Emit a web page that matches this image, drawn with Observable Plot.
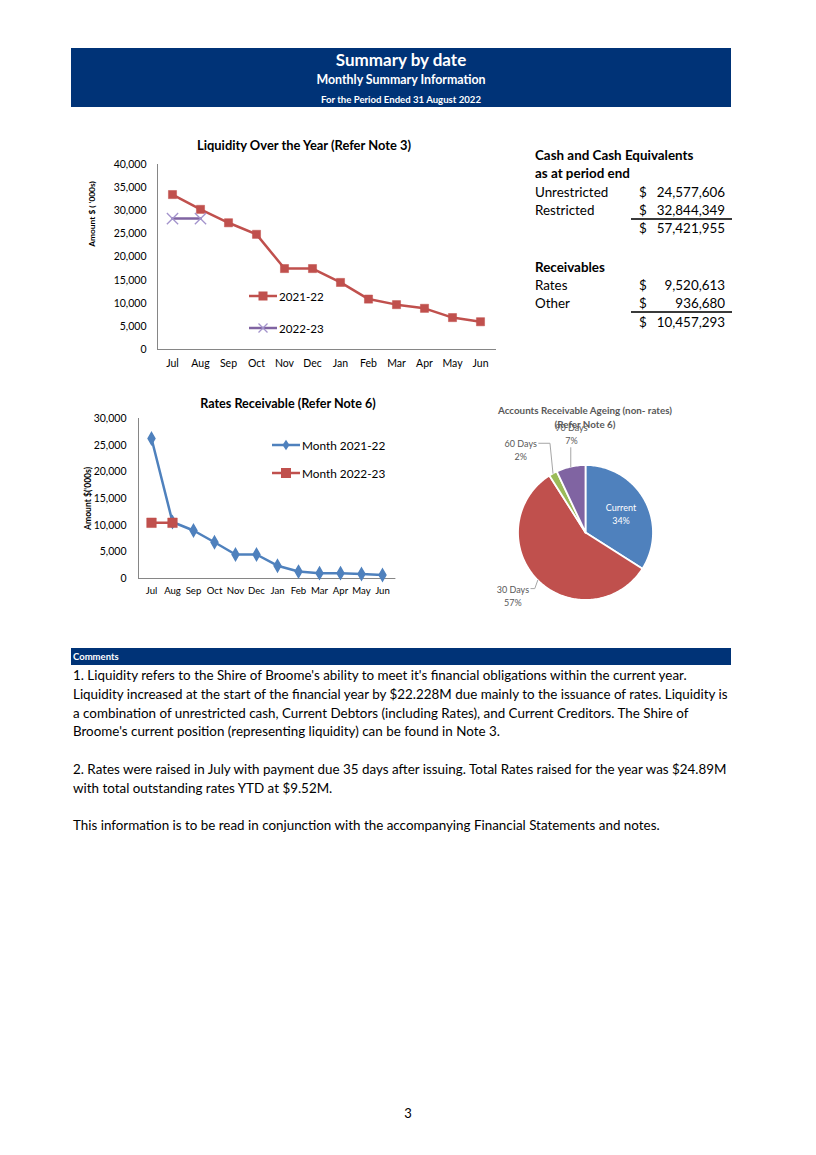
<!DOCTYPE html>
<html>
<head>
<meta charset="utf-8">
<script src="https://cdn.jsdelivr.net/npm/d3@7"></script>
<script src="https://cdn.jsdelivr.net/npm/@observablehq/plot@0.6"></script>
<style>
  body { margin: 0; background: #fff; font-family: Lato, "Open Sans", sans-serif; color: #000; }
  #page { position: relative; width: 816px; height: 1155px; overflow: hidden; background: #fff; }
  .abs { position: absolute; white-space: nowrap; }
  .band { position: absolute; background: #003377; }
  .ctr { text-align: center; }
  svg { overflow: visible; }
  .legend { position: absolute; display: flex; align-items: center; white-space: nowrap; }
  .legend svg { margin-right: 2px; }
</style>
</head>
<body>
<div id="page">
  <div class="band" style="left:71px;top:48px;width:660px;height:59px;"></div>
  <div class="abs ctr" id="h1" style="left:71px;width:660px;top:50px;line-height:20px;font-size:17px;font-weight:bold;color:#fff;"></div>
  <div class="abs ctr" id="h2" style="left:71px;width:660px;top:72px;line-height:16px;font-size:12.4px;font-weight:bold;color:#fff;"></div>
  <div class="abs ctr" id="h3" style="left:71px;width:660px;top:93px;line-height:14px;font-size:9.6px;font-weight:bold;color:#fff;"></div>

  <div class="abs ctr" id="t1" style="left:154px;width:300px;top:137px;line-height:16px;font-size:12.9px;font-weight:bold;"></div>
  <div id="c1" class="abs" style="left:80px;top:135px;"></div>
  <div id="leg1" class="abs" style="left:0;top:0;width:816px;"></div>

  <div class="abs ctr" id="t2" style="left:138px;width:300px;top:396px;line-height:16px;font-size:12.6px;font-weight:bold;"></div>
  <div id="c2" class="abs" style="left:80px;top:395px;"></div>
  <div id="leg2" class="abs" style="left:0;top:0;width:816px;"></div>

  <div class="abs ctr" id="t3" style="left:485px;width:200px;top:403px;line-height:14px;font-size:9.8px;font-weight:bold;color:#595959;"></div>
  <div id="c3" class="abs" style="left:480px;top:420px;"></div>

  <div id="cash" class="abs" style="left:0;top:0;width:816px;height:400px;"></div>

  <div class="band" style="left:71px;top:648px;width:660px;height:17px;"></div>
  <div class="abs" id="cm" style="left:73px;top:649px;line-height:15px;font-size:9.5px;font-weight:bold;color:#fff;"></div>
  <div class="abs" id="comments" style="left:73px;top:666px;line-height:18.8px;font-size:13.4px;"></div>

  <div class="abs ctr" id="pgno" style="left:358px;width:100px;top:1104px;line-height:18px;font-size:13px;"></div>
</div>

<script>
// ---------------- data ----------------
const headerLines = ["Summary by date", "Monthly Summary Information", "For the Period Ended 31 August 2022"];

const months = ["Jul", "Aug", "Sep", "Oct", "Nov", "Dec", "Jan", "Feb", "Mar", "Apr", "May", "Jun"];

const liquidityTitle = "Liquidity Over the Year (Refer Note 3)";
const liquidityAxisLabel = "Amount $ ( '000s)";
const liquidityTicks = [0, 5000, 10000, 15000, 20000, 25000, 30000, 35000, 40000];
const liquiditySeriesNames = ["2021-22", "2022-23"];
const liquidity2021_22 = [33500, 30300, 27400, 24900, 17500, 17500, 14500, 10900, 9700, 8900, 6900, 6000];
const liquidity2022_23 = [28300, 28300];

const ratesTitle = "Rates Receivable (Refer Note 6)";
const ratesAxisLabel = "Amount $('000s)";
const ratesTicks = [0, 5000, 10000, 15000, 20000, 25000, 30000];
const ratesSeriesNames = ["Month 2021-22", "Month 2022-23"];
const rates2021_22 = [26250, 10600, 9000, 6800, 4500, 4500, 2400, 1300, 1000, 1000, 850, 650];
const rates2022_23 = [10450, 10450];

const ageingTitle = ["Accounts Receivable Ageing (non- rates)", "(Refer Note 6)"];
const ageingCategories = ["Current", "30 Days", "60 Days", "90 Days"];
const ageingShares = [34, 57, 2, 7];

const cashHeading = ["Cash and Cash Equivalents", "as at period end"];
const cashLabels = ["Unrestricted", "Restricted"];
const cashValues = [24577606, 32844349];
const receivablesHeading = "Receivables";
const receivablesLabels = ["Rates", "Other"];
const receivablesValues = [9520613, 936680];

const commentsHeading = "Comments";
const commentLines = [
  "1. Liquidity refers to the Shire of Broome's ability to meet it's financial obligations within the current year.",
  "Liquidity increased at the start of the financial year by $22.228M due mainly to the issuance of rates. Liquidity is",
  "a combination of unrestricted cash, Current Debtors (including Rates), and Current Creditors. The Shire of",
  "Broome's current position (representing liquidity) can be found in Note 3.",
  "",
  "2. Rates were raised in July with payment due 35 days after issuing. Total Rates raised for the year was $24.89M",
  "with total outstanding rates YTD at $9.52M.",
  "",
  "This information is to be read in conjunction with the accompanying Financial Statements and notes."
];
const pageNumber = "3";

// ---------------- styles ----------------
const FONT = 'Lato, "Open Sans", sans-serif';
const RED = "#C0504D", PURPLE = "#8064A2", BLUE = "#4F81BD", GREEN = "#9BBB59";
const AXIS = "#868686";
const fmt = d3.format(",");

// ---------------- header / text ----------------
document.getElementById("h1").textContent = headerLines[0];
document.getElementById("h2").textContent = headerLines[1];
document.getElementById("h3").textContent = headerLines[2];
document.getElementById("t1").textContent = liquidityTitle;
document.getElementById("t2").textContent = ratesTitle;
document.getElementById("t3").innerHTML = ageingTitle.map(s => `<div>${s}</div>`).join("");
document.getElementById("cm").textContent = commentsHeading;
document.getElementById("comments").innerHTML = commentLines.map(l => `<div>${l || "&nbsp;"}</div>`).join("");
document.getElementById("pgno").textContent = pageNumber;

// ---------------- chart 1: liquidity ----------------
const liqA = months.map((m, i) => ({month: m, value: liquidity2021_22[i]}));
const liqB = liquidity2022_23.map((v, i) => ({month: months[i], value: v}));

const chart1 = Plot.plot({
  width: 420, height: 240,
  marginLeft: 77, marginRight: 5, marginTop: 29, marginBottom: 26,
  style: {fontFamily: FONT, fontSize: "10.5px", color: "#000", background: "none", overflow: "visible"},
  x: {type: "point", domain: months, padding: 0.5},
  y: {domain: [0, 40000]},
  marks: [
    Plot.frame({anchor: "left", stroke: AXIS}),
    Plot.frame({anchor: "bottom", stroke: AXIS}),
    Plot.axisX({tickSize: 0, tickPadding: 10, label: null, fontSize: 10.5}),
    Plot.axisY({ticks: liquidityTicks, tickSize: 0, tickPadding: 11, tickFormat: fmt, label: null, fontSize: 10.5}),
    Plot.text([liquidityAxisLabel], {frameAnchor: "left", textAnchor: "middle", rotate: -90, dx: -65, dy: -43, fontWeight: "bold", fontSize: 8.4}),
    Plot.line(liqA, {x: "month", y: "value", stroke: RED, strokeWidth: 2.5}),
    Plot.dot(liqA, {x: "month", y: "value", symbol: "square", fill: RED, stroke: RED, strokeWidth: 0.5, r: 4.6}),
    Plot.line(liqB, {x: "month", y: "value", stroke: PURPLE, strokeWidth: 2.5}),
    Plot.dot(liqB, {x: "month", y: "value", symbol: "times", stroke: "#A393CC", strokeWidth: 1.3, r: 5.2})
  ]
});
document.getElementById("c1").appendChild(chart1);

// ---------------- chart 2: rates ----------------
const ratesA = months.map((m, i) => ({month: m, value: rates2021_22[i]}));
const ratesB = rates2022_23.map((v, i) => ({month: months[i], value: v}));

const chart2 = Plot.plot({
  width: 320, height: 210,
  marginLeft: 58, marginRight: 5.6, marginTop: 23, marginBottom: 27,
  style: {fontFamily: FONT, fontSize: "10.5px", color: "#000", background: "none", overflow: "visible"},
  x: {type: "point", domain: months, padding: 0.5},
  y: {domain: [0, 30000]},
  marks: [
    Plot.frame({anchor: "left", stroke: AXIS}),
    Plot.frame({anchor: "bottom", stroke: AXIS}),
    Plot.axisX({tickSize: 0, tickPadding: 9, label: null, fontSize: 9.6}),
    Plot.axisY({ticks: ratesTicks, tickSize: 0, tickPadding: 12, tickFormat: fmt, label: null, fontSize: 10.5}),
    Plot.text([ratesAxisLabel], {frameAnchor: "left", textAnchor: "middle", rotate: -90, dx: -50, fontWeight: "bold", fontSize: 8.6}),
    Plot.line(ratesA, {x: "month", y: "value", stroke: BLUE, strokeWidth: 2.5}),
    Plot.dot(ratesA, {x: "month", y: "value", symbol: "diamond", fill: BLUE, stroke: BLUE, r: 3.6}),
    Plot.line(ratesB, {x: "month", y: "value", stroke: RED, strokeWidth: 2.5}),
    Plot.dot(ratesB, {x: "month", y: "value", symbol: "square", fill: RED, stroke: RED, strokeWidth: 0.5, r: 5.4})
  ]
});
document.getElementById("c2").appendChild(chart2);

// ---------------- legends ----------------
function swatch(color, symbol, size, symColor) {
  const w = 28, h = 12, c = w / 2, m = h / 2;
  let sym = "";
  if (symbol === "square") sym = `<rect x="${c - size / 2}" y="${m - size / 2}" width="${size}" height="${size}" fill="${symColor}"/>`;
  if (symbol === "diamond") sym = `<path d="M${c},${m - size / 1.5} L${c + size / 2.3},${m} L${c},${m + size / 1.5} L${c - size / 2.3},${m}Z" fill="${symColor}"/>`;
  if (symbol === "times") sym = `<path d="M${c - size / 2},${m - size / 2} L${c + size / 2},${m + size / 2} M${c - size / 2},${m + size / 2} L${c + size / 2},${m - size / 2}" stroke="${symColor}" stroke-width="1.3"/>`;
  return `<svg width="${w}" height="${h}"><line x1="0" x2="${w}" y1="${m}" y2="${m}" stroke="${color}" stroke-width="2.5"/>${sym}</svg>`;
}
function legendItem(parent, left, cy, html, text, fontSize) {
  const d = document.createElement("div");
  d.className = "legend";
  d.style.left = left + "px";
  d.style.top = (cy - 9) + "px";
  d.style.height = "18px";
  d.style.fontSize = fontSize + "px";
  d.innerHTML = html + `<span>${text}</span>`;
  document.getElementById(parent).appendChild(d);
}
legendItem("leg1", 249, 296, swatch(RED, "square", 9, RED), liquiditySeriesNames[0], 11.6);
legendItem("leg1", 249, 328, swatch(PURPLE, "times", 9, "#A393CC"), liquiditySeriesNames[1], 11.6);
legendItem("leg2", 272, 445, swatch(BLUE, "diamond", 8, BLUE), ratesSeriesNames[0], 11.8);
legendItem("leg2", 272, 473, swatch(RED, "square", 10, RED), ratesSeriesNames[1], 11.8);

// ---------------- chart 3: pie ----------------
const PX = 67.5; // pixels per unit radius
const pieColors = [BLUE, RED, GREEN, PURPLE];
const arcs = d3.pie().sort(null).value(d => d)(ageingShares);
const pieMarks = [];
arcs.forEach((a, i) => {
  const pts = [{x: 0, y: 0}];
  const n = Math.max(2, Math.ceil((a.endAngle - a.startAngle) / 0.02));
  for (let k = 0; k <= n; k++) {
    const t = a.startAngle + (a.endAngle - a.startAngle) * k / n;
    pts.push({x: Math.sin(t), y: Math.cos(t)});
  }
  pts.push({x: 0, y: 0});
  pieMarks.push(Plot.line(pts, {x: "x", y: "y", fill: pieColors[i], stroke: "#fff", strokeWidth: 1.8, strokeLinejoin: "round"}));
});
// label placement: inside for the first slice, outside (best-fit style) for the rest
const labelNudge = {"Current": [0, 0], "30 Days": [-1, -9], "60 Days": [-16, 6], "90 Days": [8, 0]};
const labelRows = arcs.map((a, i) => {
  const mid = (a.startAngle + a.endAngle) / 2;
  const inside = i === 0;
  const R = inside ? 0.6 : 1.5;
  const [ndx, ndy] = labelNudge[ageingCategories[i]];
  return {
    name: ageingCategories[i], share: ageingShares[i], mid, inside,
    x: R * Math.sin(mid) + ndx / PX, y: R * Math.cos(mid) - ndy / PX
  };
});
pieMarks.push(Plot.text(labelRows, {
  x: "x", y: "y", text: d => `${d.name}\n${d.share}%`,
  fill: d => d.inside ? "#fff" : "#595959", fontSize: 9, lineHeight: 1.45
}));
// leader lines: from slice rim to the label (vertical, then an elbow to the label's side)
const leaderRows = [];
labelRows.filter(r => !r.inside).forEach(r => {
  const rx = Math.sin(r.mid), ry = Math.cos(r.mid);
  const halfW = 18 / PX, firstLine = r.y + 6.5 / PX, bottom = r.y - 14 / PX;
  const pts = [{x: rx, y: ry}];
  if (Math.abs(r.x - rx) < halfW) {
    pts.push({x: rx, y: bottom});
  } else {
    const side = r.x < rx ? 1 : -1;
    pts.push({x: rx - side * 3 / PX, y: firstLine});
    pts.push({x: r.x + side * halfW, y: firstLine});
  }
  pts.forEach(p => leaderRows.push({...p, name: r.name}));
});
pieMarks.push(Plot.line(leaderRows, {x: "x", y: "y", z: "name", stroke: "#A6A6A6", strokeWidth: 1}));

const chart3 = Plot.plot({
  width: 200, height: 200,
  marginLeft: 37.5, marginRight: 27.5, marginTop: 44.5, marginBottom: 20.5,
  style: {fontFamily: FONT, background: "none", overflow: "visible"},
  x: {domain: [-1, 1], axis: null},
  y: {domain: [-1, 1], axis: null},
  marks: pieMarks
});
document.getElementById("c3").appendChild(chart3);

// ---------------- cash table ----------------
const cash = document.getElementById("cash");
function cashText(text, left, cy, opts = {}) {
  const d = document.createElement("div");
  d.className = "abs";
  d.style.top = (cy - 9) + "px";
  d.style.lineHeight = "18px";
  d.style.fontSize = "13.4px";
  if (opts.bold) d.style.fontWeight = "bold";
  if (opts.right) { d.style.left = (left - 150) + "px"; d.style.width = "150px"; d.style.textAlign = "right"; }
  else d.style.left = left + "px";
  d.textContent = text;
  cash.appendChild(d);
}
function rule(cy) {
  const d = document.createElement("div");
  d.style.position = "absolute";
  d.style.left = "631px"; d.style.width = "101px";
  d.style.top = (cy - 0.7) + "px"; d.style.height = "1.4px";
  d.style.background = "#3a3a3a";
  cash.appendChild(d);
}
const rowsY1 = [155, 173, 192, 210, 228];
cashText(cashHeading[0], 535, rowsY1[0], {bold: true});
cashText(cashHeading[1], 535, rowsY1[1], {bold: true});
cashLabels.forEach((l, i) => {
  cashText(l, 535, rowsY1[2 + i]);
  cashText("$", 639, rowsY1[2 + i]);
  cashText(fmt(cashValues[i]), 725, rowsY1[2 + i], {right: true});
});
rule(219);
cashText("$", 639, rowsY1[4]);
cashText(fmt(d3.sum(cashValues)), 725, rowsY1[4], {right: true});

const rowsY2 = [267, 285, 303, 322];
cashText(receivablesHeading, 535, rowsY2[0], {bold: true});
receivablesLabels.forEach((l, i) => {
  cashText(l, 535, rowsY2[1 + i]);
  cashText("$", 639, rowsY2[1 + i]);
  cashText(fmt(receivablesValues[i]), 725, rowsY2[1 + i], {right: true});
});
rule(312);
cashText("$", 639, rowsY2[3]);
cashText(fmt(d3.sum(receivablesValues)), 725, rowsY2[3], {right: true});
</script>
</body>
</html>
